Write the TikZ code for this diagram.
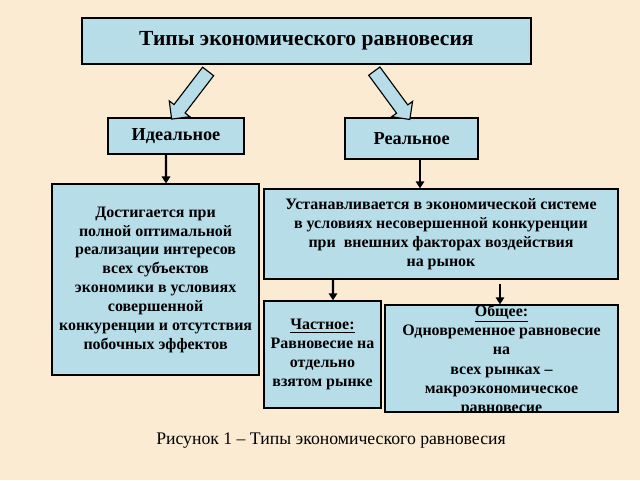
\documentclass[tikz,border=0pt]{standalone}
\usepackage{fontspec}
\setmainfont{Liberation Serif}
\usetikzlibrary{shapes.arrows,arrows.meta}
\definecolor{bgbeige}{HTML}{FBEBD3}
\definecolor{boxblue}{HTML}{B7DDE8}
\tikzset{
  box/.style={draw=black, line width=0.9pt, fill=boxblue, inner sep=0pt, align=center,
    font=\bfseries\fontsize{11.35}{13.4}\selectfont},
  darr/.style={line width=1.7pt, -{Triangle[width=6pt,length=5pt]}},
  hollowarr/.style={single arrow, draw=black, line width=0.8pt, fill=boxblue,
    minimum width=0.62cm, minimum height=1.5cm, single arrow head extend=0.15cm,
    inner xsep=0pt, inner ysep=0.16cm, sloped, allow upside down}
}

\begin{document}
\begin{tikzpicture}
  \fill[bgbeige] (0,0) rectangle (16,12);
  \useasboundingbox (0,0) rectangle (16,12);

  % Заголовок
  \node[box, minimum width=11.225cm, minimum height=1.15cm,
    font=\bfseries\fontsize{15.3}{18}\selectfont] (ttl) at (7.66,10.975) {Типы экономического равновесия};

  % Идеальное
  \node[box, minimum width=3.4cm, minimum height=0.9cm,
    font=\bfseries\fontsize{13}{15}\selectfont] (ideal) at (4.4,8.6) {Идеальное};
  \node[box, minimum width=5.175cm, minimum height=4.775cm] (idealtxt) at (3.89,5.01)
    {Достигается при\\ полной оптимальной\\ реализации интересов\\ всех субъектов\\
     экономики в условиях\\ совершенной\\ конкуренции и отсутствия\\ побочных эффектов};

  % Реальное
  \node[box, minimum width=3.325cm, minimum height=1.025cm,
    font=\bfseries\fontsize{13}{15}\selectfont] (real) at (10.29,8.54) {Реальное};
  \node[box, minimum width=8.85cm, minimum height=2.25cm] (realtxt) at (11.025,6.15)
    {Устанавливается в экономической системе\\ в условиях несовершенной конкуренции\\
     при\ \ внешних факторах воздействия\\ на рынок};

  \node[box, minimum width=2.925cm, minimum height=2.675cm] (chast) at (8.0625,3.1375)
    {\underline{Частное:}\\ Равновесие на\\ отдельно\\ взятом рынке};
  \node[box, minimum width=5.825cm, minimum height=2.675cm] (obsh) at (12.5375,3.0375) {};
  \begin{scope}
    \clip (obsh.south west) rectangle (obsh.north east);
    \node[align=center, font=\bfseries\fontsize{11.35}{13.6}\selectfont] (obshtxt) at ([yshift=-0.05cm]obsh.center)
      {\underline{Общее:}\\ Одновременное равновесие\\ на\\ всех рынках --\\
       макроэкономическое\\ равновесие};
  \end{scope}

  \node[font=\fontsize{12.6}{15}\selectfont] (cap) at (8.275,0.975) {Рисунок 1 -- Типы экономического равновесия};

  % полые стрелки
  \coordinate (la1) at (5.25,10.275);
  \coordinate (la2) at (4.35,9.1);
  \coordinate (ra1) at (9.3,10.3);
  \coordinate (ra2) at (10.2,9.075);
  \path (la1) -- (la2) node[hollowarr, midway] (larr) {};
  \path (ra1) -- (ra2) node[hollowarr, midway] (rarr) {};

  % стрелки
  \draw[darr] ([xshift=-0.25cm]ideal.south) -- ([xshift=0.26cm]idealtxt.north);
  \draw[darr] ([xshift=0.21cm]real.south) -- ([xshift=-0.525cm]realtxt.north);
  \draw[darr] ([xshift=-2.7cm]realtxt.south) -- ([xshift=0.2625cm]chast.north);
  \draw[darr] ([xshift=1.475cm,yshift=-0.1cm]realtxt.south) -- ([xshift=-0.0375cm]obsh.north);
\end{tikzpicture}
\end{document}
